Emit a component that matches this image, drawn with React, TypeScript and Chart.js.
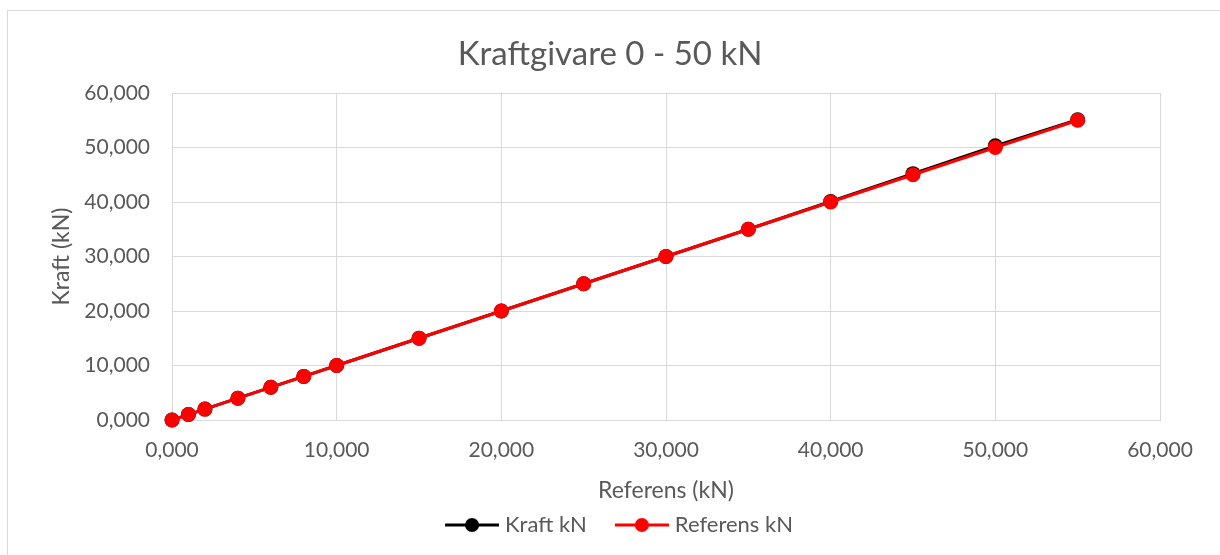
import React, { useEffect, useRef } from "react";
import { Chart, registerables } from "chart.js";

Chart.register(...registerables);

const referensX = [0, 1, 2, 4, 6, 8, 10, 15, 20, 25, 30, 35, 40, 45, 50, 55];
const kraftY = [0, 1, 2, 4, 6, 8, 10, 15, 20, 25, 30, 35, 40.1, 45.2, 50.3, 55.1];
const referensY = [0, 1, 2, 4, 6, 8, 10, 15, 20, 25, 30, 35, 40, 45, 50, 55];
const seriesNames = ["Kraft kN", "Referens kN"];
const seriesColors = ["#000000", "#ff0000"];
const axisMin = 0;
const axisMax = 60;
const axisStep = 10;

const FONT = "Lato, 'Open Sans', sans-serif";
const TXT = "#595959";

function fmt(v: number) {
  return v.toFixed(3).replace(".", ",");
}

// legend icon: transparent left part, line + marker in the right 54px
function legendIcon(color: string) {
  const c = document.createElement("canvas");
  c.width = 77;
  c.height = 16;
  const ctx = c.getContext("2d")!;
  const x0 = 77 - 54;
  ctx.strokeStyle = color;
  ctx.lineWidth = 3;
  ctx.beginPath();
  ctx.moveTo(x0, 8);
  ctx.lineTo(77, 8);
  ctx.stroke();
  ctx.fillStyle = color;
  ctx.beginPath();
  ctx.arc(x0 + 27, 8, 7, 0, Math.PI * 2);
  ctx.fill();
  return c;
}

export default function App() {
  const ref = useRef<HTMLCanvasElement>(null);
  useEffect(() => {
    const icons = seriesColors.map(legendIcon);
    const chart = new Chart(ref.current!, {
      type: "line",
      data: {
        datasets: [
          {
            label: seriesNames[0],
            data: referensX.map((x, i) => ({ x, y: kraftY[i] })),
            borderColor: seriesColors[0],
            backgroundColor: seriesColors[0],
            borderWidth: 3,
            pointRadius: 7.5,
            pointHoverRadius: 7.5,
            pointBorderWidth: 0,
            clip: false as any,
            order: 1,
          },
          {
            label: seriesNames[1],
            data: referensX.map((x, i) => ({ x, y: referensY[i] })),
            borderColor: seriesColors[1],
            backgroundColor: seriesColors[1],
            borderWidth: 3,
            pointRadius: 7.5,
            pointHoverRadius: 7.5,
            pointBorderWidth: 0,
            clip: false as any,
            order: 0,
          },
        ],
      },
      options: {
        animation: false,
        responsive: false,
        layout: { padding: { left: 0, right: 0, top: 0, bottom: 9 } },
        plugins: {
          title: {
            display: true,
            text: "Kraftgivare 0 - 50 kN",
            color: TXT,
            font: { family: FONT, size: 33, weight: "normal", lineHeight: 1.2 },
            padding: { top: 35, bottom: 18.4 },
          },
          legend: {
            position: "bottom",
            labels: {
              color: TXT,
              font: { family: FONT, size: 22 },
              usePointStyle: true,
              pointStyleWidth: 67,
              boxHeight: 16,
              padding: 10,
              generateLabels: (ch: any) =>
                ch.data.datasets.map((d: any, i: number) => ({
                  text: d.label,
                  pointStyle: icons[i],
                  fillStyle: d.backgroundColor,
                  strokeStyle: d.borderColor,
                  lineWidth: 0,
                  fontColor: TXT,
                  hidden: false,
                  datasetIndex: i,
                })),
            },
          },
          tooltip: { enabled: false },
        },
        scales: {
          x: {
            type: "linear",
            min: axisMin,
            max: axisMax,
            afterFit: (s: any) => {
              s.height = 84;
            },
            ticks: {
              stepSize: axisStep,
              color: TXT,
              font: { family: FONT, size: 21 },
              padding: 18,
              callback: (v: any) => fmt(Number(v)),
            },
            grid: { color: "#d9d9d9", lineWidth: 1, drawTicks: false },
            border: { color: "#d9d9d9" },
            title: {
              display: true,
              text: "Referens (kN)",
              color: TXT,
              font: { family: FONT, size: 23 },
              padding: { top: 0, bottom: 0 },
            },
          },
          y: {
            type: "linear",
            min: axisMin,
            max: axisMax,
            afterFit: (s: any) => {
              s.width = 172;
            },
            ticks: {
              stepSize: axisStep,
              color: TXT,
              font: { family: FONT, size: 21 },
              padding: 22,
              callback: (v: any) => fmt(Number(v)),
            },
            grid: { color: "#d9d9d9", lineWidth: 1, drawTicks: false },
            border: { color: "#d9d9d9" },
            title: {
              display: true,
              text: "Kraft (kN)",
              color: TXT,
              font: { family: FONT, size: 23 },
              padding: { top: 48, bottom: 0 },
            },
          },
          yRightSpace: {
            type: "linear",
            position: "right",
            min: axisMin,
            max: axisMax,
            afterFit: (s: any) => {
              s.width = 60;
            },
            ticks: { display: false },
            grid: { display: false, drawTicks: false },
            border: { display: false },
          },
        },
      },
    });
    return () => chart.destroy();
  }, []);
  return (
    <div style={{ position: "fixed", left: 0, top: 0, width: 1220, height: 555, background: "#fff" }}>
      <div
        style={{
          position: "absolute",
          left: 7,
          top: 10,
          width: 1220,
          height: 560,
          borderLeft: "1px solid #d9d9d9",
          borderTop: "1px solid #d9d9d9",
        }}
      />
      <canvas ref={ref} width={1220} height={555} style={{ position: "absolute", left: 0, top: 0 }} />
    </div>
  );
}
